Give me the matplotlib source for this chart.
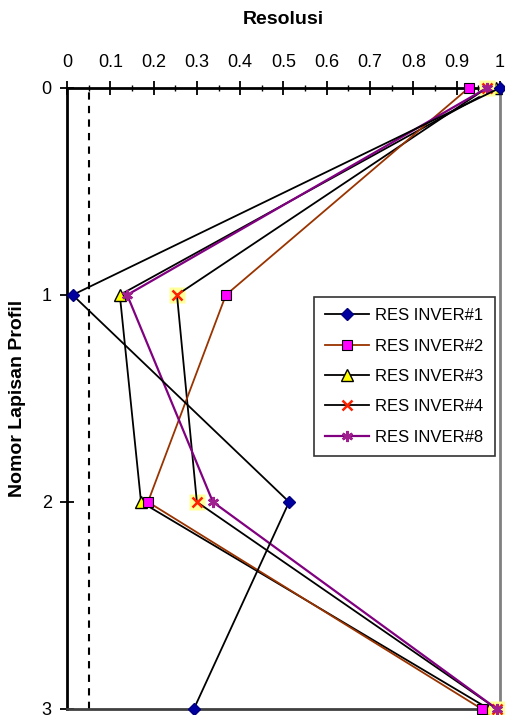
import numpy as np
import matplotlib.pyplot as plt

plt.rcParams['font.family'] = ['Liberation Sans', 'DejaVu Sans']

lapisan = [0, 1, 2, 3]
res_inver1 = [1.00, 0.013, 0.513, 0.293]
res_inver2 = [0.928, 0.367, 0.187, 0.958]
res_inver3 = [0.99, 0.122, 0.171, 0.975]
res_inver4 = [0.97, 0.254, 0.300, 0.993]
res_inver8 = [0.97, 0.139, 0.337, 0.993]
batas = 0.05

fig = plt.figure(figsize=(5.06, 7.15), dpi=100)
ax = fig.add_axes([0.1324, 0.0084, 0.8556, 0.8686])

ax.axvline(batas, color='black', linestyle='--', linewidth=1.5, dashes=(3.5, 3))

ax.plot(res_inver1, lapisan, color='black', linewidth=1.3, marker='D',
        markersize=6, markerfacecolor='#0000a0', markeredgecolor='#000080',
        label='RES INVER#1', clip_on=False, zorder=5)
ax.plot(res_inver2, lapisan, color='#993300', linewidth=1.3, marker='s',
        markersize=7, markerfacecolor='#ff00ff', markeredgecolor='black',
        markeredgewidth=0.8, label='RES INVER#2', clip_on=False, zorder=4)
ax.plot(res_inver3, lapisan, color='black', linewidth=1.3, marker='^',
        markersize=8, markerfacecolor='#ffff00', markeredgecolor='black',
        markeredgewidth=1.0, label='RES INVER#3', clip_on=False, zorder=3)
# marker #4: kotak kuning dengan tanda x merah
ax.plot(res_inver4, lapisan, linestyle='none', marker='s', markersize=12,
        markerfacecolor='#ffff99', markeredgecolor='none', clip_on=False, zorder=3)
ax.plot(res_inver4, lapisan, color='black', linewidth=1.3, marker='x',
        markersize=7, markeredgecolor='#ff2000', markeredgewidth=1.8,
        label='RES INVER#4', clip_on=False, zorder=3)
ax.plot(res_inver8, lapisan, color='#800080', linewidth=1.6, marker=(6, 2, 0),
        markersize=8, markeredgecolor='#a0208f', markeredgewidth=1.8,
        label='RES INVER#8', clip_on=False, zorder=4)

ax.set_xlim(0, 1)
ax.set_ylim(3, 0)
ax.xaxis.tick_top()
ax.xaxis.set_label_position('top')
ax.set_xticks(np.arange(0, 1.01, 0.1))
ax.set_xticklabels(['0', '0.1', '0.2', '0.3', '0.4', '0.5', '0.6', '0.7', '0.8', '0.9', '1'])
ax.set_xticks(np.arange(0.05, 1.0, 0.1), minor=True)
ax.set_yticks(lapisan)
ax.tick_params(axis='x', which='major', direction='inout', length=10, width=1.3,
               labelsize=13, pad=7)
ax.tick_params(axis='x', which='minor', direction='inout', length=5, width=1.0)
ax.tick_params(axis='y', which='major', direction='inout', length=10, width=1.3,
               labelsize=13, pad=6)

ax.spines['left'].set_linewidth(2)
ax.spines['top'].set_linewidth(2)
ax.spines['right'].set_color('#808080')
ax.spines['right'].set_linewidth(2)
ax.spines['bottom'].set_color('#404040')
ax.spines['bottom'].set_linewidth(2)

ax.set_xlabel('Resolusi', fontsize=14, fontweight='bold', labelpad=22)
ax.set_ylabel('Nomor Lapisan Profil', fontsize=14, fontweight='bold', labelpad=11)

handles, labels = ax.get_legend_handles_labels()
leg = ax.legend(handles, labels, loc='upper left', bbox_to_anchor=(0.57, 0.664),
                fontsize=12, frameon=True, fancybox=False, edgecolor='black',
                handlelength=2.6, handletextpad=0.4, labelspacing=0.92,
                borderpad=0.7, borderaxespad=0)
leg.get_frame().set_linewidth(1.2)

fig.savefig('out.png', dpi=100)
